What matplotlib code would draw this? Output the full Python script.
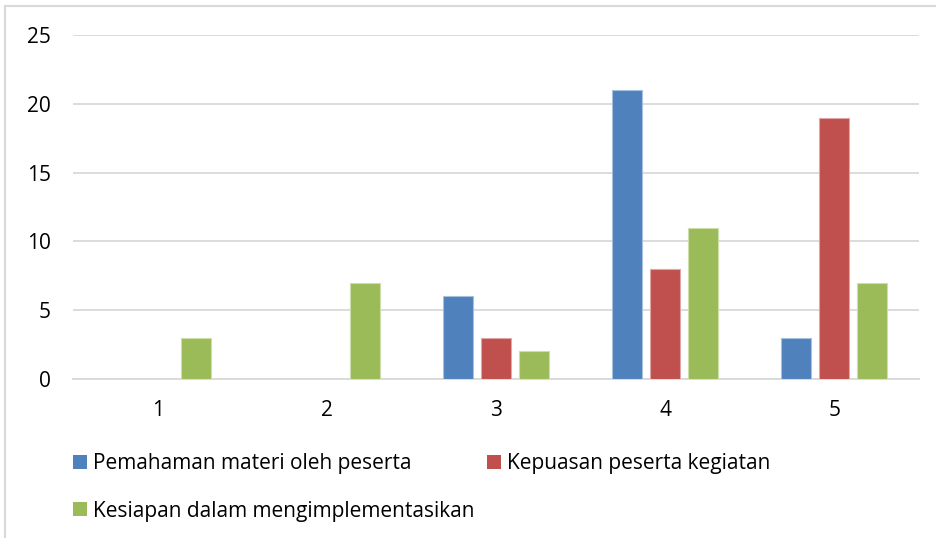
import matplotlib
matplotlib.use("Agg")
import matplotlib.pyplot as plt
from matplotlib.patches import Rectangle, Patch
import numpy as np

categories = ["1", "2", "3", "4", "5"]
pemahaman = [0, 0, 6, 21, 3]
kepuasan = [0, 0, 3, 8, 19]
kesiapan = [3, 7, 2, 11, 7]
series_names = ["Pemahaman materi oleh peserta", "Kepuasan peserta kegiatan",
                "Kesiapan dalam mengimplementasikan"]
colors = ["#4F81BD", "#C0504D", "#9BBB59"]
edge_colors = ["#A7C0DE", "#DFA8A6", "#CDDDAC"]
yticks = [0, 5, 10, 15, 20, 25]

plt.rcParams['font.family'] = ['Open Sans', 'DejaVu Sans']
FS = 15

fig = plt.figure(figsize=(9.36, 5.38), dpi=100)
ax = fig.add_axes([73/936, 1-379/538, (919-73)/936, (379-35)/538])

x = np.arange(1, len(categories) + 1)
bw = 30/169.2
step = 38/169.2
for i, (vals, c, ec) in enumerate(zip([pemahaman, kepuasan, kesiapan], colors, edge_colors)):
    bars = ax.bar(x + (i - 1) * step, vals, width=bw, color=c, edgecolor=ec,
                  linewidth=0.8, zorder=3)
    for b, v in zip(bars, vals):
        if v == 0:
            b.set_visible(False)

ax.set_xlim(0.5, 5.5)
ax.set_ylim(0, 25)
ax.set_yticks(yticks)
ax.set_xticks(x)
ax.set_xticklabels(categories)
ax.grid(axis='y', color='#D9D9D9', linewidth=1.3, zorder=0)
for s in ['top', 'right', 'left']:
    ax.spines[s].set_visible(False)
ax.spines['bottom'].set_color('#D9D9D9')
ax.spines['bottom'].set_linewidth(1.3)
ax.spines['bottom'].set_zorder(0)
ax.tick_params(axis='both', length=0, labelsize=FS, colors='black')
ax.tick_params(axis='y', pad=16)
ax.tick_params(axis='x', pad=15)

# chart border (cropped)
fig.patches.append(Rectangle((5/936, -0.1), 1.2, 1 - 6/538 + 0.1, transform=fig.transFigure,
                             fill=False, edgecolor='#D9D9D9', linewidth=1.5, zorder=0))

# legend entries, row-wise as in the reference
positions = [(73, 464), (487, 464), (73, 511)]
for name, c, (px, py) in zip(series_names, colors, positions):
    h = Patch(facecolor=c, edgecolor='none')
    leg = fig.legend([h], [name], loc='center left',
                     bbox_to_anchor=(px/936, 1 - py/538), frameon=False, fontsize=FS,
                     handlelength=0.67, handleheight=0.67, handletextpad=0.28,
                     borderpad=0, borderaxespad=0)

fig.savefig("out.png", dpi=100)
